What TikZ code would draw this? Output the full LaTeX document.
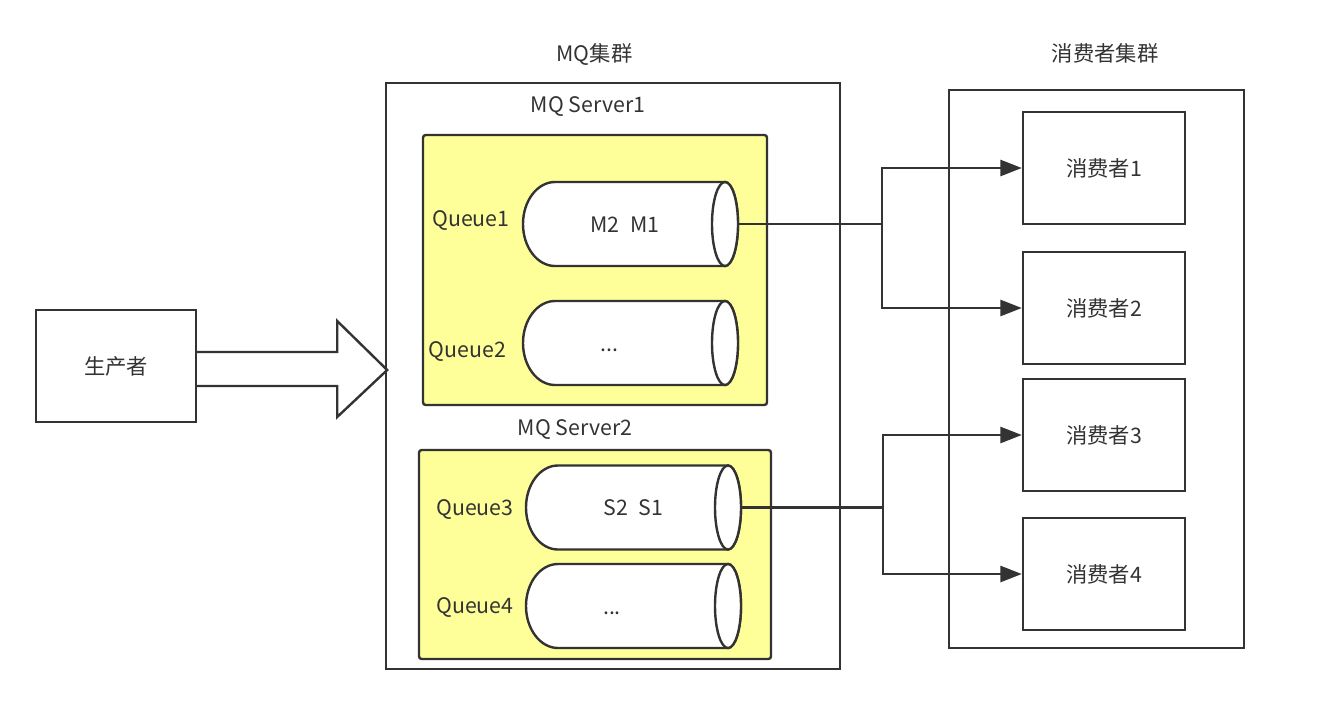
\documentclass[tikz,border=0pt]{standalone}
\usepackage{fontspec}
\setmainfont{Noto Sans CJK SC}
\usetikzlibrary{arrows.meta}
\definecolor{linegray}{HTML}{333333}
\definecolor{queueyellow}{HTML}{FFFF99}

\begin{document}
\begin{tikzpicture}[x=0.75pt, y=-0.75pt,
        line/.style={draw=linegray, line width=1.8pt},
        txt/.style={text=linegray, font=\fontsize{16}{19}\selectfont, inner sep=0pt},
        box/.style={line, txt, rectangle},
        server/.style={line, fill=queueyellow, rounded corners=2pt},
        flow/.style={line, -{Triangle[length=16pt, width=12pt]}},
        pics/queuecyl/.style 2 args={code={
            \draw[line, fill=white] (94.5,-42) -- (-75.5,-42)
                arc[start angle=90, end angle=270, x radius=24pt, y radius=31.5pt]
                -- (94.5,42) arc[start angle=-90, end angle=90, x radius=9.75pt, y radius=31.5pt] -- cycle;
            \draw[line, fill=white] (94.5,0) ellipse [x radius=9.75pt, y radius=31.5pt];
            \node[txt] (-body) at (#2,3) {\strut#1};
            \coordinate (-out) at (107.5,0);
        }}]
        \useasboundingbox (0,0) rectangle (1332,704);

        % Producent
        \node[box, minimum width=120pt, minimum height=84pt] (producer) at (116,366) {生产者};

        % Klaster MQ
        \node[line, minimum width=340.5pt, minimum height=439.5pt] (mqcluster) at (613,376) {};
        \node[txt] (mqlabel) at (594.5,54) {MQ集群};
        \node[txt] (server1label) at (588,107) {MQ Server1};
        \node[txt] (server2label) at (575,429) {MQ Server2};

        % Serwery z kolejkami
        \node[server, minimum width=258pt, minimum height=202.5pt] (server1) at (595,270) {};
        \node[server, minimum width=264pt, minimum height=156.75pt] (server2) at (595,554.5) {};

        \pic (q1) at (630.5,224) {queuecyl={M2\hspace{8pt}M1}{-5.5}};
        \pic (q2) at (630.5,343) {queuecyl={...}{-21}};
        \pic (q3) at (633.5,507.5) {queuecyl={S2\hspace{8pt}S1}{0}};
        \pic (q4) at (633.5,606) {queuecyl={...}{-21.5}};

        \node[txt] (queue1label) at (471,220) {Queue1};
        \node[txt] (queue2label) at (467.5,351) {Queue2};
        \node[txt] (queue3label) at (475,509) {Queue3};
        \node[txt] (queue4label) at (475,607) {Queue4};

        % Gruba strzałka producent -> klaster
        \draw[line, fill=white, line join=miter] ([yshift=10.5pt]producer.east) -- ++(140,0) -- ++(0,-31)
            -- ++(50,49) -- ++(-50,47) -- ++(0,-31) -- ++(-140,0);

        % Klaster konsumentów
        \node[line, minimum width=221.25pt, minimum height=418.5pt] (consumers) at (1096.5,369) {};
        \node[txt] (consumerslabel) at (1105,53) {消费者集群};
        \node[box, minimum width=121.5pt, minimum height=84pt] (consumer1) at (1104,168) {消费者1};
        \node[box, minimum width=121.5pt, minimum height=84pt] (consumer2) at (1104,308) {消费者2};
        \node[box, minimum width=121.5pt, minimum height=84pt] (consumer3) at (1104,435) {消费者3};
        \node[box, minimum width=121.5pt, minimum height=84pt] (consumer4) at (1104,574) {消费者4};

        % Połączenia kolejek z konsumentami
        \draw[flow] (q1-out) -- ++(144,0) |- (consumer1.west);
        \draw[flow] (q1-out) -- ++(144,0) |- (consumer2.west);
        \draw[flow] (q3-out) -- ++(142,0) |- (consumer3.west);
        \draw[flow] (q3-out) -- ++(142,0) |- (consumer4.west);
    \end{tikzpicture}
\end{document}
